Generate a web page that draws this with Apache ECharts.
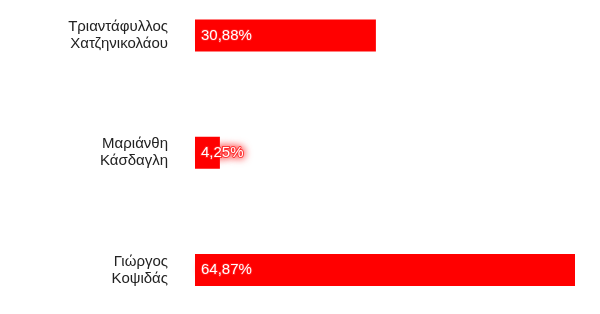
<!DOCTYPE html>
<html>
<head>
<meta charset="utf-8">
<script src="https://cdn.jsdelivr.net/npm/echarts@6/dist/echarts.min.js"></script>
<style>html,body{margin:0;padding:0;background:#fff}#c{width:600px;height:314px}</style>
</head>
<body>
<div id="c"></div>
<script>
var categories = ['Τριαντάφυλλος\nΧατζηνικολάου', 'Μαριάνθη\nΚάσδαγλη', 'Γιώργος\nΚοψιδάς'];
var values = [30.88, 4.25, 64.87];

var chart = echarts.init(document.getElementById('c'));
chart.setOption({
  animation: false,
  grid: { left: 195, right: 25, top: 35.5, bottom: 44, containLabel: false },
  xAxis: { type: 'value', min: 0, max: 64.87, show: false },
  yAxis: {
    type: 'category', data: categories, inverse: true, boundaryGap: false,
    axisLine: { show: false }, axisTick: { show: false }, splitLine: { show: false },
    axisLabel: { color: '#222', fontSize: 15, lineHeight: 17, margin: 27, align: 'right', fontFamily: 'Liberation Sans, Arial, sans-serif' }
  },
  series: [{
    type: 'bar', data: values, barWidth: 32,
    itemStyle: { color: '#ff0000' },
    label: {
      show: true, position: 'insideLeft', distance: 6, color: '#fff', fontSize: 15,
      fontFamily: 'Liberation Sans, Arial, sans-serif',
      textBorderColor: 'rgba(255,40,40,0.8)', textBorderWidth: 2,
      textShadowColor: '#ff0000', textShadowBlur: 8,
      formatter: function (p) { return p.value.toFixed(2).replace('.', ',') + '%'; }
    }
  }]
});
</script>
</body>
</html>
